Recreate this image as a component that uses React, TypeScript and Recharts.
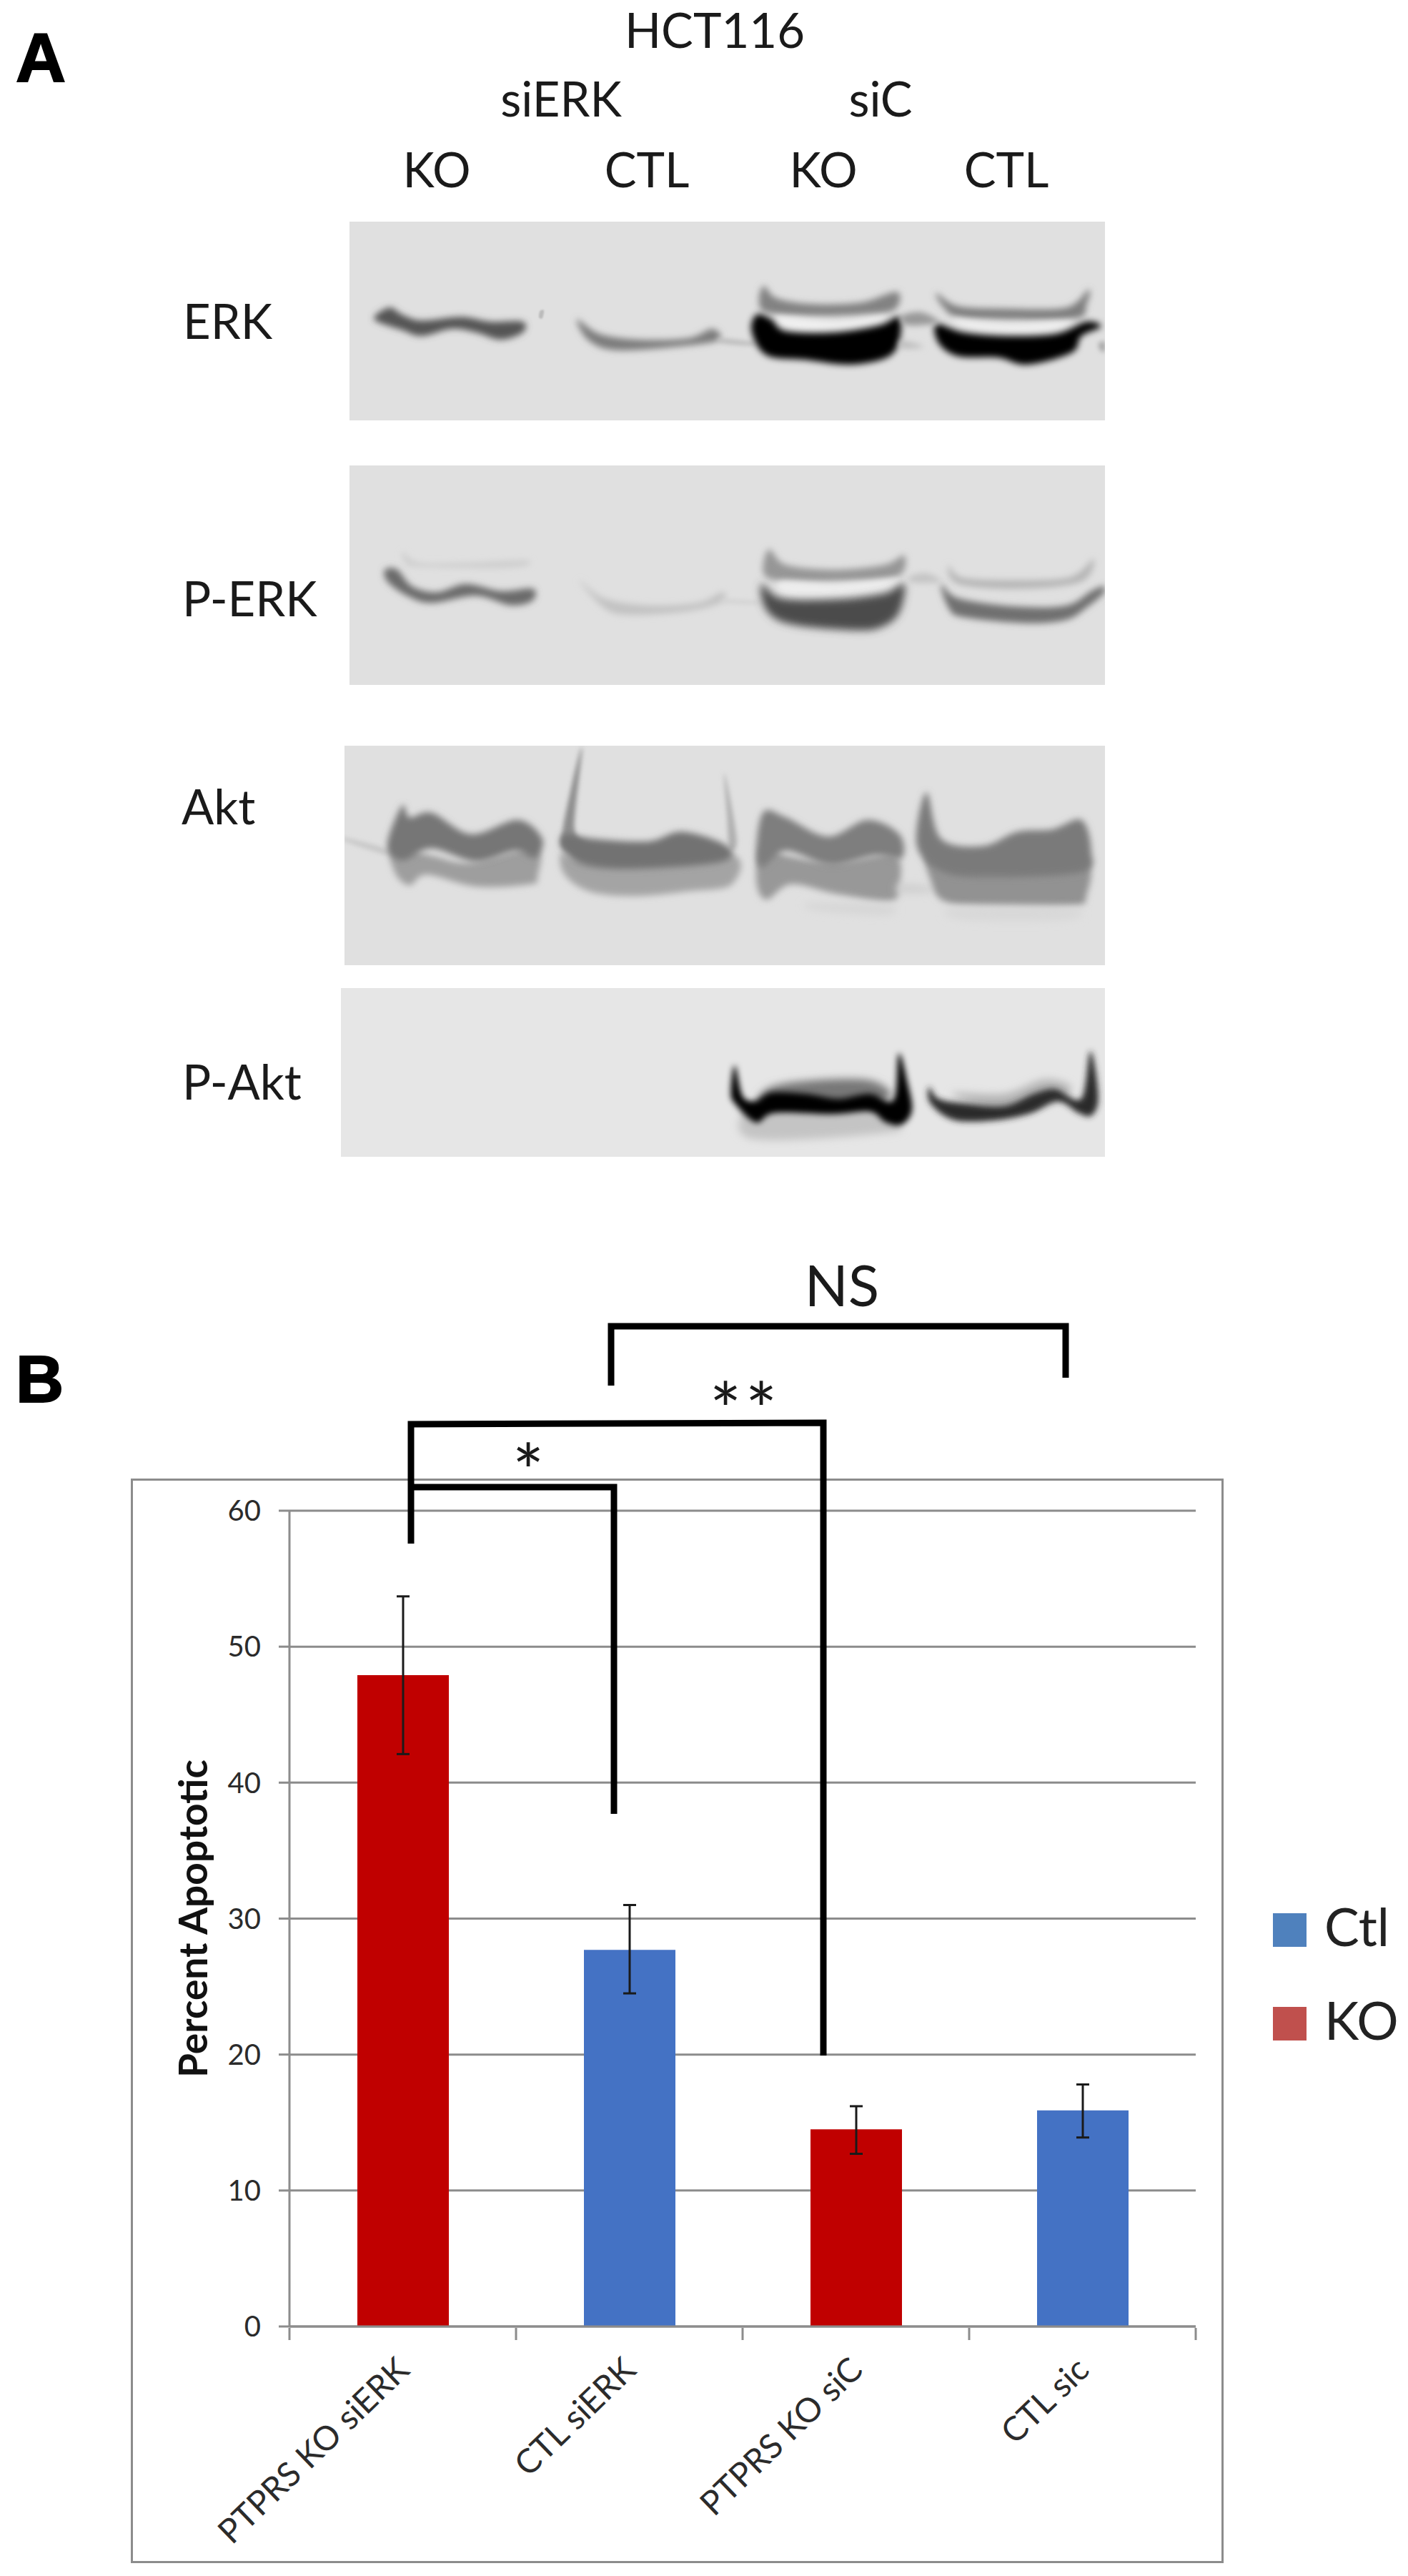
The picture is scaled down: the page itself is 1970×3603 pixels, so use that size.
import { Bar, BarChart, CartesianGrid, Cell, ErrorBar, Legend, XAxis, YAxis } from 'recharts'

const categories = ['PTPRS KO siERK', 'CTL siERK', 'PTPRS KO siC', 'CTL sic']
const percentApoptotic = [47.9, 27.7, 14.5, 15.9]
const errorLow = [5.8, 3.2, 1.8, 2.0]
const errorHigh = [5.8, 3.3, 1.7, 1.9]
const barColors = ['#c00000', '#4472c4', '#c00000', '#4472c4']
const yTicks = [0, 10, 20, 30, 40, 50, 60]
const legendNames = ['Ctl', 'KO']
const legendColors = ['#4f81bd', '#c0504d']

const data = categories.map((name, i) => ({
  name,
  percent: percentApoptotic[i],
  error: [errorLow[i], errorHigh[i]],
}))

const FONT = 'Lato, sans-serif'
const GRAY = '#8c8c8c'
const BAND_W = 317

type Pt = [number, number]
type Shape = [string, number, Pt[]]

// western blot panels: rect plus hand traced band outlines
// pts are in a local grid, page x = ox + px / sx, page y = oy + py / sy
const blots: { x: number; y: number; w: number; h: number; fill: string; ox: number; oy: number; sx: number; sy: number; shapes: Shape[] }[] = [
  {
    x: 489, y: 310, w: 1057, h: 278, fill: '#e0e0e0', ox: 480, oy: 310, sx: 1.452, sy: 3,
    shapes: [
      ['#555', 5, [[65, 395], [95, 360], [120, 390], [160, 415], [240, 400], [300, 420], [365, 420], [365, 465], [320, 495], [270, 465], [220, 450], [160, 480], [120, 455], [70, 420]]],
      ['#7c7c7c', 5, [[475, 410], [520, 470], [600, 495], [700, 490], [750, 450], [765, 495], [700, 520], [560, 540], [500, 500]]],
      ['#bcbcbc', 3, [[765, 490], [830, 505], [830, 520], [770, 510]]],
      ['#bbb', 1, [[400, 375], [408, 372], [405, 405], [398, 402]]],
      ['#828282', 5, [[855, 270], [880, 320], [950, 345], [1050, 340], [1125, 295], [1120, 370], [1050, 390], [950, 395], [860, 380], [845, 330]]],
      ['#f0f0f0', 4, [[880, 400], [1000, 420], [1100, 400], [1080, 435], [980, 460], [910, 455]]],
      ['#000', 5, [[840, 390], [870, 410], [900, 460], [1000, 465], [1090, 435], [1130, 400], [1130, 500], [1105, 570], [1030, 600], [940, 580], [860, 560], [830, 460]]],
      ['#7e7e7e', 5, [[1205, 300], [1250, 355], [1350, 365], [1470, 360], [1515, 285], [1510, 350], [1490, 405], [1350, 410], [1250, 400], [1220, 360]]],
      ['#eee', 4, [[1240, 410], [1350, 430], [1480, 420], [1440, 465], [1350, 470], [1270, 450]]],
      ['#000', 5, [[1205, 430], [1260, 465], [1350, 480], [1450, 470], [1510, 420], [1540, 440], [1500, 480], [1480, 550], [1390, 600], [1330, 570], [1250, 565], [1210, 510]]],
      ['#999', 4, [[1135, 395], [1175, 380], [1210, 420], [1170, 435], [1140, 430]]],
      ['#bbb', 4, [[1135, 500], [1180, 525], [1135, 530]]],
      ['#aaa', 3, [[1535, 510], [1548, 505], [1548, 545], [1538, 540]]],
    ],
  },
  {
    x: 489, y: 651, w: 1057, h: 307, fill: '#e0e0e0', ox: 480, oy: 650, sx: 1.452, sy: 3,
    shapes: [
      ['#cfcfcf', 4, [[120, 365], [155, 410], [250, 410], [370, 400], [370, 425], [300, 435], [160, 430], [130, 420]]],
      ['#6a6a6a', 5, [[85, 440], [110, 440], [140, 510], [190, 535], [250, 500], [320, 530], [385, 520], [385, 570], [340, 590], [270, 550], [180, 580], [130, 550], [90, 490]]],
      ['#c2c2c2', 5, [[480, 485], [530, 560], [620, 590], [720, 580], [770, 535], [770, 575], [700, 615], [580, 630], [530, 600]]],
      ['#d2d2d2', 3, [[775, 565], [840, 572], [840, 585], [775, 580]]],
      ['#969696', 5, [[865, 355], [900, 420], [1000, 440], [1100, 420], [1140, 380], [1125, 470], [1000, 490], [900, 490], [855, 460]]],
      ['#ededed', 4, [[890, 490], [1000, 500], [1130, 480], [1100, 530], [1000, 555], [900, 555]]],
      ['#4c4c4c', 6, [[850, 500], [890, 560], [1000, 565], [1100, 540], [1140, 500], [1130, 620], [1095, 680], [1040, 695], [910, 670], [860, 610]]],
      ['#b4b4b4', 5, [[1230, 420], [1260, 475], [1380, 485], [1480, 470], [1525, 395], [1500, 490], [1380, 520], [1250, 500]]],
      ['#707070', 5, [[1215, 500], [1250, 560], [1370, 595], [1470, 590], [1520, 530], [1545, 510], [1545, 540], [1510, 600], [1470, 650], [1390, 665], [1260, 640], [1230, 600]]],
      ['#c4c4c4', 4, [[1150, 470], [1185, 455], [1215, 490], [1160, 495]]],
    ],
  },
  {
    x: 482, y: 1043, w: 1064, h: 307, fill: '#e0e0e0', ox: 480, oy: 1040, sx: 1.452, sy: 3,
    shapes: [
      ['#c8c8c8', 3, [[5, 395], [85, 440], [85, 465], [5, 410]]],
      ['#9e9e9e', 5, [[100, 430], [180, 470], [260, 500], [390, 440], [395, 560], [380, 590], [270, 600], [170, 550], [135, 595], [105, 540]]],
      ['#767676', 5, [[120, 260], [135, 310], [180, 290], [260, 380], [355, 320], [405, 400], [390, 480], [350, 450], [270, 495], [180, 440], [120, 490], [90, 425]]],
      ['#a4a4a4', 5, [[445, 460], [500, 490], [780, 460], [790, 590], [700, 620], [590, 640], [500, 620], [450, 550]]],
      ['#8e8e8e', 3, [[485, 15], [470, 350], [490, 420], [450, 440], [447, 350]]],
      ['#b0b0b0', 3, [[775, 125], [800, 400], [785, 440], [780, 300]]],
      ['#727272', 5, [[450, 380], [510, 400], [620, 410], [690, 370], [780, 430], [770, 495], [600, 525], [490, 510], [445, 440]]],
      ['#989898', 5, [[850, 430], [900, 470], [1000, 500], [1120, 470], [1130, 600], [1110, 660], [1000, 630], [910, 590], [860, 655], [840, 580]]],
      ['#7e7e7e', 5, [[855, 285], [900, 310], [985, 390], [1065, 320], [1130, 380], [1135, 480], [1080, 470], [990, 510], [900, 450], [850, 520], [840, 430]]],
      ['#cfcfcf', 6, [[1130, 590], [1190, 600], [1190, 625], [1130, 625]]],
      ['#d6d6d6', 6, [[950, 670], [1110, 680], [1100, 720], [960, 700]]],
      ['#929292', 5, [[1190, 460], [1300, 530], [1500, 490], [1510, 640], [1480, 680], [1300, 680], [1220, 660], [1195, 580]]],
      ['#7a7a7a', 5, [[1185, 205], [1215, 400], [1300, 430], [1370, 370], [1440, 360], [1500, 320], [1520, 450], [1500, 540], [1300, 560], [1210, 530], [1165, 420]]],
      ['#d8d8d8', 6, [[1240, 690], [1480, 690], [1470, 740], [1260, 740]]],
    ],
  },
  {
    x: 477, y: 1382, w: 1069, h: 236, fill: '#e6e6e6', ox: 980, oy: 1400, sx: 2.703, sy: 3,
    shapes: [
      ['#777', 6, [[250, 370], [400, 335], [650, 335], [690, 420], [250, 450]]],
      ['#c4c4c4', 6, [[170, 450], [280, 450], [600, 450], [700, 500], [730, 550], [200, 580]]],
      ['#000', 4, [[130, 270], [160, 400], [210, 420], [270, 385], [400, 390], [520, 410], [640, 390], [730, 415], [750, 220], [785, 350], [800, 460], [760, 520], [700, 510], [640, 465], [500, 475], [280, 470], [210, 510], [130, 430], [115, 380]]],
      ['#b4b4b4', 6, [[950, 390], [1150, 390], [1300, 330], [1400, 360], [1350, 420], [1150, 460]]],
      ['#2c2c2c', 4, [[865, 360], [900, 410], [1000, 430], [1150, 440], [1260, 390], [1340, 370], [1440, 410], [1475, 210], [1505, 400], [1480, 480], [1430, 470], [1350, 420], [1250, 470], [1120, 500], [960, 500], [870, 430]]],
    ],
  },
]

const panelText: [string, number, number, string][] = [
  ['HCT116', 1000, 67, 'middle'],
  ['siERK', 785, 163, 'middle'],
  ['siC', 1232, 163, 'middle'],
  ['KO', 611, 262, 'middle'],
  ['CTL', 905, 262, 'middle'],
  ['KO', 1152, 262, 'middle'],
  ['CTL', 1408, 262, 'middle'],
  ['ERK', 256, 474, 'start'],
  ['P-ERK', 255, 862, 'start'],
  ['Akt', 254, 1153, 'start'],
  ['P-Akt', 255, 1538, 'start'],
]

const brackets = [
  'M855 1938 V1855 H1491 V1927',
  'M575 2159 V1992 L1152 1990 V2875',
  'M575 2080 H859 V2537',
]

// closed catmull-rom through the traced points
const closedPath = (pts: Pt[]) => {
  const n = pts.length
  let d = `M${pts[0][0]} ${pts[0][1]}`
  for (let i = 0; i < n; i++) {
    const p0 = pts[(i - 1 + n) % n]
    const p1 = pts[i]
    const p2 = pts[(i + 1) % n]
    const p3 = pts[(i + 2) % n]
    const c1x = p1[0] + (p2[0] - p0[0]) / 6
    const c1y = p1[1] + (p2[1] - p0[1]) / 6
    const c2x = p2[0] - (p3[0] - p1[0]) / 6
    const c2y = p2[1] - (p3[1] - p1[1]) / 6
    d += ` C${c1x} ${c1y} ${c2x} ${c2y} ${p2[0]} ${p2[1]}`
  }
  return d + ' Z'
}

const XTick = ({ x, y, payload, index }: any) => {
  const left = x - BAND_W / 2
  const right = x + BAND_W / 2
  return (
    <g>
      <line x1={left} x2={left} y1={y} y2={y + 17} stroke={GRAY} strokeWidth={3} />
      {index === categories.length - 1 && (
        <line x1={right} x2={right} y1={y} y2={y + 17} stroke={GRAY} strokeWidth={3} />
      )}
      <text
        x={x + 12}
        y={y + 62}
        textAnchor="end"
        fontFamily={FONT}
        fontSize={47}
        fill="#2b2b2b"
        transform={`rotate(-44 ${x + 12} ${y + 62})`}
      >
        {payload.value}
      </text>
    </g>
  )
}

const ChartLegend = () => (
  <div style={{ position: 'relative', width: 0, height: 0, fontFamily: FONT, fontSize: 73, color: '#222' }}>
    {legendNames.map((name, i) => (
      <div key={name} style={{ position: 'absolute', left: 0, top: i * 131, whiteSpace: 'nowrap' }}>
        <div style={{ position: 'absolute', width: 47, height: 47, background: legendColors[i] }} />
        <div style={{ position: 'absolute', left: 72, top: -23, lineHeight: '82px' }}>{name}</div>
      </div>
    ))}
  </div>
)

export default function App() {
  return (
    <div style={{ position: 'absolute', left: 0, top: 0, width: 1970, height: 3603, background: '#fff' }}>
      <svg width={1970} height={1700} style={{ position: 'absolute', left: 0, top: 0 }}>
        <defs>
          {[1, 3, 4, 5, 6].map((s) => (
            <filter key={s} id={`blur${s}`} x="-50%" y="-100%" width="200%" height="300%">
              <feGaussianBlur stdDeviation={s} />
            </filter>
          ))}
          {blots.map((b, i) => (
            <clipPath key={i} id={`blot${i}`}>
              <rect x={b.x} y={b.y} width={b.w} height={b.h} />
            </clipPath>
          ))}
        </defs>
        <text x={22} y={114} fontFamily="Liberation Sans" fontWeight={700} fontSize={97} stroke="#000" strokeWidth={2}>A</text>
        {panelText.map(([t, x, y, anchor], i) => (
          <text key={i} x={x} y={y} textAnchor={anchor as any} fontFamily={FONT} fontSize={67} fill="#1a1a1a">
            {t}
          </text>
        ))}
        {blots.map((b, i) => (
          <g key={i}>
            <rect x={b.x} y={b.y} width={b.w} height={b.h} fill={b.fill} />
            <g clipPath={`url(#blot${i})`}>
              {b.shapes.map(([color, blur, pts], j) => (
                <path
                  key={j}
                  d={closedPath(pts.map(([px, py]): Pt => [b.ox + px / b.sx, b.oy + py / b.sy]))}
                  fill={color}
                  filter={`url(#blur${blur})`}
                />
              ))}
            </g>
          </g>
        ))}
      </svg>

      <div
        style={{
          position: 'absolute',
          left: 183,
          top: 2068,
          width: 1529,
          height: 1517,
          boxSizing: 'border-box',
          border: `3px solid ${GRAY}`,
        }}
      />
      <div style={{ position: 'absolute', left: 183, top: 2068 }}>
        <BarChart
          width={1787}
          height={1517}
          data={data}
          margin={{ top: 45, right: 297, bottom: 0, left: 0 }}
          barSize={128}
        >
          <CartesianGrid vertical={false} stroke={GRAY} strokeWidth={3} />
          <XAxis
            dataKey="name"
            height={331}
            interval={0}
            axisLine={{ stroke: GRAY, strokeWidth: 3 }}
            tickLine={false}
            tickSize={0}
            tick={<XTick />}
          />
          <YAxis
            width={222}
            domain={[0, 60]}
            ticks={yTicks}
            interval={0}
            axisLine={{ stroke: GRAY, strokeWidth: 3 }}
            tickLine={{ stroke: GRAY, strokeWidth: 3 }}
            tickSize={15}
            tickMargin={25}
            tick={{ fontFamily: FONT, fontSize: 40, fill: '#2b2b2b' }}
            label={{
              value: 'Percent Apoptotic',
              angle: -90,
              position: 'insideLeft',
              offset: 87,
              style: { fontFamily: FONT, fontSize: 55, fontWeight: 700, fill: '#111', textAnchor: 'middle' },
            }}
          />
          <Legend
            content={<ChartLegend />}
            wrapperStyle={{ position: 'absolute', left: 1598, top: 608, width: 0, height: 0, bottom: 'auto' }}
          />
          <Bar dataKey="percent" isAnimationActive={false}>
            {data.map((d, i) => (
              <Cell key={d.name} fill={barColors[i]} />
            ))}
            <ErrorBar dataKey="error" direction="y" width={9} stroke="#1a1a1a" strokeWidth={3} isAnimationActive={false} />
          </Bar>
        </BarChart>
      </div>

      <svg width={1970} height={3603} style={{ position: 'absolute', left: 0, top: 0, pointerEvents: 'none' }}>
        <text x={22} y={1961} fontFamily="Liberation Sans" fontWeight={700} fontSize={93} stroke="#000" strokeWidth={2}>B</text>
        {brackets.map((d) => (
          <path key={d} d={d} fill="none" stroke="#000" strokeWidth={9} strokeLinejoin="miter" />
        ))}
        <text x={1178} y={1827} textAnchor="middle" fontFamily={FONT} fontSize={80} fill="#1a1a1a">NS</text>
        <text x={739} y={2096} textAnchor="middle" fontFamily={FONT} fontSize={105} fill="#1a1a1a">*</text>
        <text x={1015} y={2010} textAnchor="middle" fontFamily={FONT} fontSize={105} fill="#1a1a1a">*</text>
        <text x={1065} y={2010} textAnchor="middle" fontFamily={FONT} fontSize={105} fill="#1a1a1a">*</text>
      </svg>
    </div>
  )
}
